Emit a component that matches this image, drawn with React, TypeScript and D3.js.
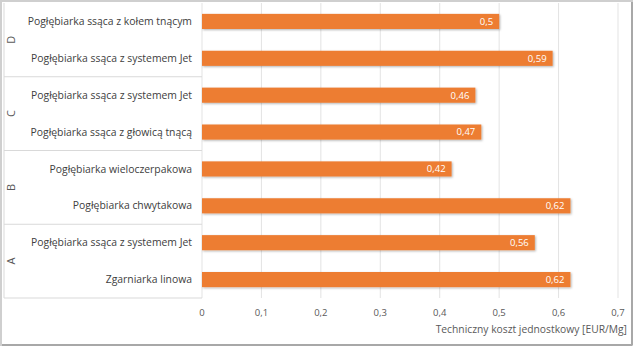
import React from "react";
import * as d3 from "d3";

const groups = ["D", "D", "C", "C", "B", "B", "A", "A"];
const categories = [
  "Pogłębiarka ssąca z kołem tnącym",
  "Pogłębiarka ssąca z systemem Jet",
  "Pogłębiarka ssąca z systemem Jet",
  "Pogłębiarka ssąca z głowicą tnącą",
  "Pogłębiarka wieloczerpakowa",
  "Pogłębiarka chwytakowa",
  "Pogłębiarka ssąca z systemem Jet",
  "Zgarniarka linowa",
];
const values = [0.5, 0.59, 0.46, 0.47, 0.42, 0.62, 0.56, 0.62];
const ticks = [0, 0.1, 0.2, 0.3, 0.4, 0.5, 0.6, 0.7];
const groupNames = ["D", "C", "B", "A"];
const axisTitle = "Techniczny koszt jednostkowy [EUR/Mg]";

const W = 634;
const H = 347;
const FONT = "'Open Sans', sans-serif";

export default function App() {
  const x = d3.scaleLinear().domain([0, 0.7]).range([202, 618]);
  const keys = categories.map((_, i) => String(i));
  const y = d3.scaleBand().domain(keys).range([3, 298]).paddingInner(0.59).paddingOuter(0.295);
  const fmt = (v: number) => String(v).replace(".", ",");
  const groupY = d3.scaleBand().domain(groupNames).range([3, 298]);

  return (
    <svg
      width={W}
      height={H}
      style={{ position: "absolute", left: 0, top: 0, background: "#fff" }}
    >
      <defs>
        <filter id="sh" x="-5%" y="-30%" width="110%" height="160%">
          <feDropShadow dx="1" dy="1" stdDeviation="0.8" floodColor="#000" floodOpacity="0.3" />
        </filter>
      </defs>
      <rect x={1} y={1} width={W - 3} height={H - 3} fill="#fff" stroke="#cfcfcf" strokeWidth={2} />
      <line x1={2} x2={W - 2} y1={H - 2} y2={H - 2} stroke="#a8a8a8" strokeWidth={2} />
      <line x1={W - 2} x2={W - 2} y1={2} y2={H - 2} stroke="#a8a8a8" strokeWidth={2} />
      {ticks.map((t) => (
        <line key={"g" + t} x1={x(t)} x2={x(t)} y1={3} y2={298} stroke="#e3e3e3" strokeWidth={1} />
      ))}
      {groupNames.map((g) => (
        <line
          key={"sep" + g}
          x1={4}
          x2={x(0)}
          y1={(groupY(g) as number) + groupY.bandwidth()}
          y2={(groupY(g) as number) + groupY.bandwidth()}
          stroke="#d9d9d9"
        />
      ))}
      <line x1={4} x2={4} y1={3} y2={298} stroke="#d9d9d9" />
      {groupNames.map((g) => {
        const cy = (groupY(g) as number) + groupY.bandwidth() / 2;
        return (
          <text
            key={"gl" + g}
            transform={`translate(15,${cy}) rotate(-90)`}
            textAnchor="middle"
            fontFamily={FONT}
            fontSize={11}
            fill="#595959"
          >
            {g}
          </text>
        );
      })}
      {categories.map((c, i) => (
        <text
          key={"c" + i}
          x={192}
          y={(y(String(i)) as number) + y.bandwidth() / 2}
          dy="0.35em"
          textAnchor="end"
          fontFamily={FONT}
          fontSize={10.4}
          fill="#404040"
        >
          {c}
        </text>
      ))}
      {values.map((v, i) => (
        <rect
          key={"b" + i}
          x={x(0)}
          y={y(String(i))}
          width={x(v) - x(0)}
          height={y.bandwidth()}
          fill="#ED7D31"
          filter="url(#sh)"
        />
      ))}
      {values.map((v, i) => (
        <text
          key={"v" + i}
          x={x(v) - 6}
          y={(y(String(i)) as number) + y.bandwidth() / 2}
          dy="0.35em"
          textAnchor="end"
          fontFamily={FONT}
          fontSize={9.5}
          fill="#fff"
        >
          {fmt(v)}
        </text>
      ))}
      {ticks.map((t) => (
        <text
          key={"t" + t}
          x={x(t)}
          y={316}
          textAnchor="middle"
          fontFamily={FONT}
          fontSize={9.5}
          fill="#595959"
        >
          {fmt(t)}
        </text>
      ))}
      <text
        x={627}
        y={333}
        textAnchor="end"
        fontFamily={FONT}
        fontSize={10.3}
        fill="#595959"
      >
        {axisTitle}
      </text>
    </svg>
  );
}
